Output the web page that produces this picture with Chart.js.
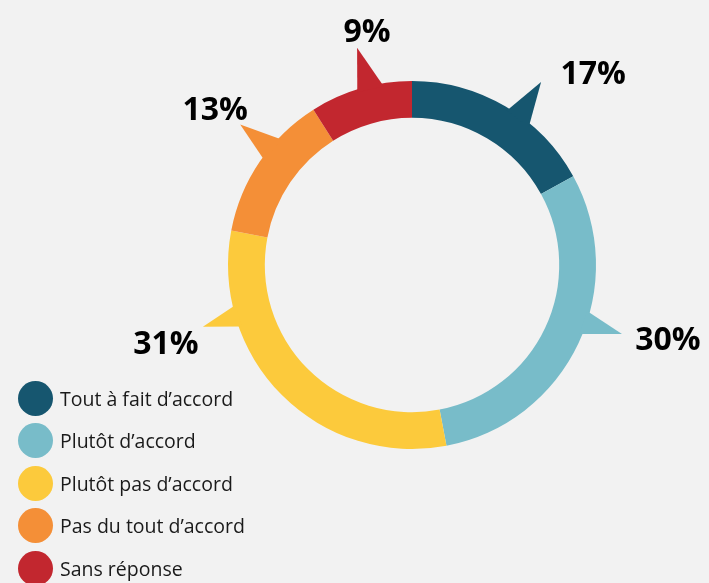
<!DOCTYPE html>
<html>
<head>
<meta charset="utf-8">
<script src="https://cdn.jsdelivr.net/npm/chart.js@4/dist/chart.umd.min.js"></script>
<style>
    html, body { margin: 0; padding: 0; background: #f2f2f2; }
    #wrap { position: relative; width: 709px; height: 583px; }
    #myChart { position: absolute; left: 0; top: 0; }
    #legend { position: absolute; left: 18px; top: 377px; margin: 0; padding: 0; list-style: none; }
    #legend li { display: flex; align-items: center; height: 42.5px; font-family: "Open Sans", sans-serif; font-size: 19.5px; color: #1a1a1a; }
    #legend .dot { width: 35px; height: 35px; border-radius: 50%; margin-right: 7px; flex: none; }
</style>
</head>
<body>
<div id="wrap">
    <canvas id="myChart" width="709" height="583"></canvas>
    <ul id="legend"></ul>
</div>
<script>
const categories = ['Tout à fait d’accord', 'Plutôt d’accord', 'Plutôt pas d’accord', 'Pas du tout d’accord', 'Sans réponse']
const values = [17, 30, 31, 13, 9]
const colors = ['#16566f', '#78bcc9', '#fcca3c', '#f48f37', '#c2272f']

// petites pointes autour de l'anneau + étiquettes en %
const tabPlugin = {
    id: 'tabs',
    afterDatasetsDraw(chart, args, opts) {
        let ctx = chart.ctx
        let meta = chart.getDatasetMeta(0)
        meta.data.forEach((arc, i) => {
            let t = opts.tabs[i]
            let p = arc.getProps(['x', 'y', 'startAngle', 'endAngle', 'outerRadius'], true)
            let span = p.endAngle - p.startAngle
            let a0 = p.startAngle + t.from * span
            let a1 = p.startAngle + t.to * span
            let at = p.startAngle + t.tip * span
            let rb = p.outerRadius - 3
            let rt = p.outerRadius + t.len
            let tipX = p.x + rt * Math.cos(at)
            let tipY = p.y + rt * Math.sin(at)
            ctx.save()
            ctx.fillStyle = colors[i]
            ctx.beginPath()
            ctx.moveTo(p.x + rb * Math.cos(a0), p.y + rb * Math.sin(a0))
            ctx.lineTo(tipX, tipY)
            ctx.lineTo(p.x + rb * Math.cos(a1), p.y + rb * Math.sin(a1))
            ctx.closePath()
            ctx.fill()
            ctx.fillStyle = '#000'
            ctx.font = 'bold 32px "Open Sans"'
            ctx.textAlign = 'center'
            ctx.textBaseline = 'middle'
            ctx.fillText(values[i] + '%', tipX + t.dx, tipY + t.dy)
            ctx.restore()
        })
    }
}

document.addEventListener('DOMContentLoaded', () => {
    let ctx = document.getElementById('myChart')

    let dados = {
        labels: categories,
        datasets: [{
            data: values,
            backgroundColor: colors,
            borderWidth: 0
        }]
    }
    let opcoes = {
        responsive: false,
        animation: false,
        cutout: '80%',
        layout: {
            padding: { left: 228, right: 113, top: 81, bottom: 134 }
        },
        plugins: {
            legend: { display: false },
            tooltip: { enabled: false },
            tabs: {
                tabs: [
                    { from: 0.515, to: 0.657, tip: 0.575, len: 40, dx: 52, dy: -7 },
                    { from: 0.403, to: 0.474, tip: 0.435, len: 37, dx: 46, dy: 7 },
                    { from: 0.725, to: 0.789, tip: 0.756, len: 34, dx: -37, dy: 18 },
                    { from: 0.524, to: 0.707, tip: 0.609, len: 38, dx: -25, dy: -13 },
                    { from: 0.457, to: 0.722, tip: 0.562, len: 40, dx: 10, dy: -15 }
                ]
            }
        }
    }
    new Chart(ctx, {
        type: 'doughnut',
        data: dados,
        options: opcoes,
        plugins: [tabPlugin]
    })

    // ============ Légende ============ //
    let items = ''
    categories.forEach((cat, i) => {
        items += `<li><span class="dot" style="background:${colors[i]}"></span>${cat}</li>`
    })
    document.getElementById('legend').innerHTML = items
})
</script>
</body>
</html>
